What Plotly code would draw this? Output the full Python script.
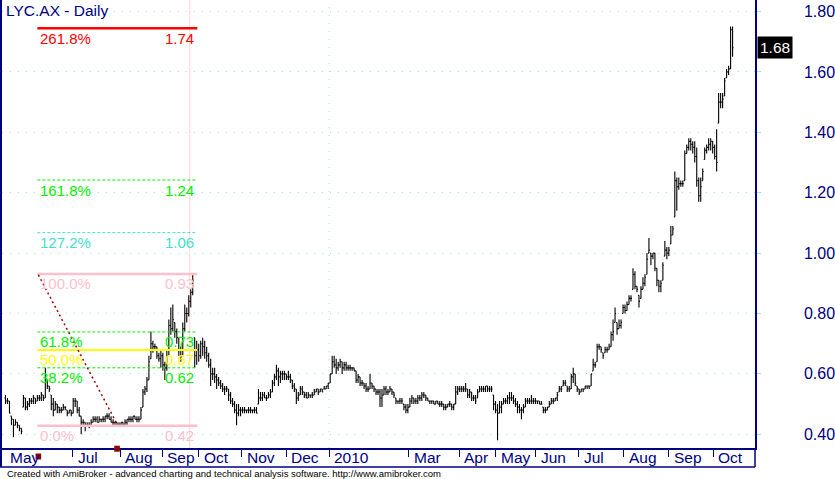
import plotly.graph_objects as go

# ---------------- data ----------------
OPEN = [
    .52, .51, .51, .46, .45, .43, .44, .43, .42, .49,
    .52, .49, .50, .51, .51, .52, .51, .52, .52, .53,
    .52, .58, .56, .53, .50, .48, .50, .49, .48, .48,
    .49, .48, .47, .48, .47, .51, .51, .48, .46, .44,
    .44, .43, .43, .43, .44, .45, .45, .44, .45, .45,
    .45, .46, .46, .45, .44, .44, .44, .43, .43, .44,
    .43, .44, .45, .45, .45, .46, .45, .45, .45, .49,
    .54, .55, .58, .65, .70, .69, .69, .66, .65, .66,
    .63, .62, .66, .76, .75, .77, .74, .72, .68, .66,
    .75, .80, .80, .84, .87, .72, .66, .68, .66, .70,
    .69, .67, .66, .63, .60, .60, .59, .58, .57, .56,
    .55, .55, .55, .53, .51, .50, .48, .47, .48, .48,
    .48, .48, .48, .48, .48, .48, .48, .50, .52, .52,
    .53, .52, .52, .53, .54, .57, .59, .61, .59, .60,
    .60, .60, .59, .59, .58, .56, .55, .52, .53, .55,
    .54, .53, .52, .53, .53, .53, .54, .55, .54, .55,
    .55, .55, .56, .57, .60, .64, .63, .62, .63, .64,
    .62, .63, .62, .62, .62, .62, .61, .58, .59, .57,
    .57, .56, .55, .55, .57, .56, .55, .54, .54, .52,
    .53, .55, .54, .54, .55, .54, .52, .51, .51, .51,
    .50, .49, .48, .49, .51, .52, .51, .51, .52, .52,
    .53, .53, .52, .51, .51, .51, .50, .51, .50, .50,
    .50, .49, .49, .50, .50, .49, .50, .54, .55, .55,
    .55, .55, .55, .53, .54, .52, .52, .52, .54, .55,
    .55, .55, .56, .55, .55, .53, .50, .48, .47, .49,
    .50, .51, .51, .52, .52, .52, .51, .50, .49, .48,
    .48, .49, .51, .51, .51, .51, .51, .51, .51, .50,
    .49, .48, .48, .49, .50, .51, .51, .52, .54, .55,
    .56, .57, .56, .55, .55, .59, .60, .56, .55, .54,
    .55, .55, .56, .56, .56, .61, .63, .64, .69, .69,
    .67, .67, .68, .68, .69, .73, .77, .77, .75, .76,
    .80, .82, .81, .83, .85, .88, .93, .89, .86, .85,
    .88, .90, .93, 1.00, 1.00, .99, 1.00, .95, .91, .89,
    .91, .99, 1.01, 1.00, 1.03, 1.06, 1.12, 1.24, 1.22, 1.23,
    1.23, 1.24, 1.33, 1.35, 1.37, 1.36, 1.35, 1.32, 1.24, 1.19,
    1.24, 1.31, 1.34, 1.35, 1.36, 1.37, 1.35, 1.32, 1.43, 1.50,
    1.50, 1.52, 1.58, 1.60, 1.61, 1.74,
]
HIGH = [
    .53, .52, .51, .46, .45, .45, .44, .43, .42, .53,
    .52, .51, .52, .52, .53, .52, .53, .53, .54, .53,
    .62, .58, .56, .53, .52, .51, .50, .49, .49, .50,
    .49, .48, .48, .48, .52, .52, .51, .49, .46, .45,
    .44, .44, .44, .45, .46, .46, .46, .46, .45, .46,
    .46, .47, .47, .46, .45, .44, .44, .44, .44, .44,
    .45, .45, .46, .46, .46, .46, .46, .46, .49, .55,
    .56, .59, .66, .74, .71, .70, .69, .67, .68, .67,
    .64, .68, .78, .82, .83, .77, .75, .72, .69, .77,
    .83, .82, .86, .88, .93, .72, .71, .70, .71, .72,
    .71, .69, .67, .65, .62, .62, .60, .59, .58, .57,
    .56, .56, .55, .54, .52, .51, .50, .50, .49, .49,
    .49, .48, .49, .49, .48, .49, .49, .55, .54, .54,
    .54, .53, .54, .55, .58, .60, .63, .62, .61, .61,
    .61, .60, .61, .60, .58, .57, .55, .54, .56, .56,
    .54, .54, .54, .53, .54, .55, .55, .55, .55, .55,
    .56, .56, .57, .60, .66, .66, .65, .64, .65, .64,
    .64, .64, .63, .63, .62, .62, .61, .60, .59, .58,
    .57, .57, .56, .60, .57, .56, .55, .55, .55, .55,
    .56, .56, .55, .56, .55, .54, .52, .51, .52, .52,
    .50, .50, .50, .52, .53, .52, .52, .53, .53, .54,
    .54, .53, .52, .51, .51, .51, .51, .51, .51, .51,
    .50, .50, .50, .51, .50, .50, .56, .56, .56, .56,
    .56, .57, .55, .55, .54, .53, .53, .55, .56, .56,
    .56, .56, .56, .56, .56, .53, .51, .50, .51, .51,
    .52, .52, .53, .54, .54, .53, .52, .51, .50, .49,
    .50, .52, .52, .52, .53, .52, .52, .51, .51, .51,
    .49, .49, .49, .51, .52, .52, .52, .54, .56, .56,
    .58, .58, .56, .56, .60, .62, .60, .56, .55, .55,
    .55, .56, .56, .56, .60, .65, .64, .70, .70, .69,
    .67, .69, .69, .70, .74, .78, .82, .77, .78, .78,
    .83, .83, .84, .86, .86, .95, .94, .89, .86, .89,
    .92, .93, 1.00, 1.05, 1.00, 1.00, 1.00, .95, .91, .91,
    .97, 1.04, 1.02, 1.02, 1.09, 1.09, 1.27, 1.25, 1.25, 1.24,
    1.24, 1.34, 1.36, 1.38, 1.38, 1.37, 1.37, 1.35, 1.25, 1.25,
    1.28, 1.35, 1.36, 1.38, 1.38, 1.37, 1.36, 1.41, 1.53, 1.53,
    1.53, 1.58, 1.61, 1.62, 1.75, 1.75,
]
LOW = [
    .50, .50, .47, .43, .39, .43, .42, .41, .40, .49,
    .48, .48, .49, .50, .50, .50, .51, .51, .51, .51,
    .52, .55, .54, .48, .46, .48, .47, .47, .47, .48,
    .48, .46, .47, .46, .47, .49, .47, .46, .40, .43,
    .41, .43, .42, .43, .44, .44, .44, .44, .44, .44,
    .44, .45, .45, .44, .43, .43, .43, .43, .43, .43,
    .43, .43, .44, .44, .44, .45, .44, .44, .45, .49,
    .53, .54, .58, .65, .67, .68, .65, .64, .62, .61,
    .58, .61, .66, .73, .74, .72, .70, .66, .64, .66,
    .74, .77, .79, .82, .86, .62, .63, .64, .65, .66,
    .65, .64, .62, .56, .58, .57, .55, .56, .55, .54,
    .53, .54, .51, .50, .49, .47, .43, .46, .46, .47,
    .47, .47, .47, .47, .47, .47, .47, .50, .51, .51,
    .52, .51, .52, .52, .54, .56, .58, .56, .57, .58,
    .58, .58, .58, .57, .55, .54, .50, .51, .53, .53,
    .52, .52, .52, .52, .52, .53, .54, .53, .54, .54,
    .55, .55, .55, .57, .60, .62, .60, .61, .62, .60,
    .61, .61, .61, .61, .61, .61, .57, .57, .56, .56,
    .55, .54, .54, .55, .55, .54, .53, .53, .49, .49,
    .53, .53, .53, .54, .53, .52, .50, .50, .50, .50,
    .48, .47, .47, .49, .50, .50, .50, .50, .51, .51,
    .52, .51, .51, .50, .50, .50, .50, .50, .49, .49,
    .48, .48, .49, .49, .48, .48, .50, .53, .54, .54,
    .54, .54, .52, .52, .51, .51, .50, .52, .54, .54,
    .54, .54, .54, .54, .54, .48, .47, .38, .47, .47,
    .50, .50, .50, .50, .51, .50, .49, .47, .47, .45,
    .47, .49, .50, .50, .50, .50, .50, .50, .50, .50,
    .47, .47, .48, .49, .50, .50, .51, .51, .54, .54,
    .56, .56, .54, .54, .55, .57, .56, .54, .53, .54,
    .54, .55, .55, .55, .56, .61, .62, .64, .68, .67,
    .65, .67, .67, .68, .69, .71, .77, .73, .75, .75,
    .80, .80, .81, .83, .84, .88, .88, .87, .82, .85,
    .88, .89, .93, 1.00, .96, .98, .94, .89, .87, .87,
    .91, .99, .98, .99, 1.03, 1.06, 1.12, 1.14, 1.21, 1.22,
    1.22, 1.24, 1.33, 1.34, 1.34, 1.33, 1.30, 1.22, 1.17, 1.17,
    1.24, 1.31, 1.33, 1.34, 1.34, 1.33, 1.31, 1.27, 1.43, 1.48,
    1.48, 1.52, 1.58, 1.59, 1.61, 1.65,
]
CLOSE = [
    .51, .51, .47, .45, .43, .44, .43, .42, .41, .52,
    .49, .50, .51, .51, .52, .51, .52, .52, .53, .52,
    .58, .56, .55, .50, .48, .50, .49, .48, .48, .49,
    .49, .47, .48, .47, .51, .51, .48, .46, .44, .44,
    .43, .43, .43, .44, .45, .45, .44, .45, .45, .45,
    .46, .46, .45, .44, .44, .44, .43, .43, .44, .43,
    .44, .45, .45, .45, .46, .45, .45, .45, .48, .54,
    .55, .58, .64, .70, .69, .69, .66, .65, .66, .63,
    .62, .66, .76, .75, .78, .74, .72, .68, .66, .75,
    .80, .80, .84, .87, .91, .66, .68, .66, .70, .69,
    .67, .66, .63, .60, .60, .59, .58, .57, .56, .55,
    .55, .55, .53, .51, .50, .48, .47, .48, .48, .48,
    .48, .48, .48, .48, .48, .48, .47, .52, .52, .53,
    .52, .52, .53, .54, .57, .59, .61, .59, .60, .60,
    .60, .59, .59, .58, .56, .55, .52, .53, .55, .54,
    .53, .52, .53, .53, .53, .54, .55, .54, .55, .54,
    .55, .56, .57, .60, .64, .63, .62, .63, .64, .62,
    .63, .62, .62, .62, .62, .61, .58, .59, .57, .57,
    .56, .55, .55, .57, .56, .55, .54, .54, .52, .53,
    .55, .54, .54, .55, .54, .53, .51, .51, .51, .51,
    .49, .48, .49, .51, .52, .51, .51, .52, .52, .53,
    .53, .52, .51, .51, .51, .50, .51, .50, .50, .50,
    .49, .49, .50, .50, .49, .50, .54, .55, .55, .55,
    .55, .55, .53, .54, .52, .52, .51, .54, .55, .55,
    .55, .56, .55, .55, .55, .50, .48, .47, .49, .50,
    .51, .51, .52, .52, .52, .51, .50, .49, .48, .48,
    .49, .51, .51, .51, .51, .51, .51, .51, .50, .50,
    .48, .48, .49, .50, .51, .51, .52, .53, .55, .55,
    .57, .57, .55, .55, .59, .60, .57, .55, .54, .55,
    .55, .56, .56, .56, .60, .63, .63, .69, .69, .68,
    .66, .68, .68, .69, .73, .74, .80, .75, .76, .77,
    .82, .81, .83, .85, .85, .93, .89, .88, .84, .88,
    .90, .92, .98, 1.01, .99, 1.00, .95, .91, .89, .90,
    .96, 1.01, 1.00, 1.01, 1.06, 1.08, 1.24, 1.22, 1.23, 1.23,
    1.23, 1.33, 1.35, 1.37, 1.36, 1.35, 1.32, 1.24, 1.19, 1.22,
    1.27, 1.34, 1.35, 1.36, 1.37, 1.35, 1.32, 1.30, 1.50, 1.50,
    1.51, 1.57, 1.60, 1.61, 1.74, 1.68,
]
BAR_IDX = list(range(len(CLOSE)))

# month labels of the date axis and the bar index where each month starts
MONTH_LABELS = ["May", "Jul", "Aug", "Sep", "Oct", "Nov", "Dec", "2010",
                "Mar", "Apr", "May", "Jun", "Jul", "Aug", "Sep", "Oct"]
MONTH_POS = [0.0, 33.85, 57.5, 78.65, 97.0, 118.65, 140.85, 162.5,
             202.5, 227.85, 246.15, 266.15, 287.65, 310.35, 332.85, 355.35]
YEAR_POS = 162.5          # dotted year separator (2010)
CURSOR_POS = 92.5         # pink selection line

# Fibonacci study
FIB_LOW = 0.428
FIB_HIGH = 0.931
FIB_X0, FIB_X1 = 16.0, 96.3
FIB_RATIOS = [0.0, 0.382, 0.5, 0.618, 1.0, 1.272, 1.618, 2.618]
FIB_PCT_TEXT = ["0.0%", "38.2%", "50.0%", "61.8%", "100.0%", "127.2%", "161.8%", "261.8%"]
FIB_VAL_TEXT = ["0.42", "0.62", "0.67", "0.73", "0.93", "1.06", "1.24", "1.74"]
FIB_COLORS = ["#FFC0CB", "#00F000", "#FFFF00", "#00F000", "#FFC0CB", "#40E0D0", "#00F000", "#FF0000"]
FIB_WIDTHS = [2.5, 1, 2, 1, 2.5, 1, 1, 2.5]
FIB_DASH = ["solid", "3px,2px", "solid", "3px,2px", "solid", "3px,2px", "3px,2px", "solid"]

TREND_X = [16.5, 56.0]
TREND_Y = [0.928, 0.434]

assert len(OPEN) == len(HIGH) == len(LOW) == len(CLOSE), (len(OPEN), len(HIGH), len(LOW), len(CLOSE))

# ---------------- layout constants ----------------
W, H = 835, 479
ML, MR, MT, MB = 2, 77, 0, 31
PW, PH = W - ML - MR, H - MT - MB
X_RANGE = [-1.75, 376.25]
Y_RANGE = [0.3546, 1.8381]
NAVY = "#000080"
GRID = "#9AE6E6"
FONT = "Liberation Sans, Arial, sans-serif"


def py(pix):
    """pixel row (from top of plot) -> paper y"""
    return 1 - pix / PH


def pxp(pix):
    """pixel column (from left of plot) -> paper x"""
    return pix / PW


fig = go.Figure()
fig.add_trace(go.Ohlc(
    x=BAR_IDX, open=OPEN, high=HIGH, low=LOW, close=CLOSE,
    increasing=dict(line=dict(color="black", width=1.1)),
    decreasing=dict(line=dict(color="black", width=1.1)),
    tickwidth=0.5, hoverinfo="skip", showlegend=False,
))

shapes = []
annotations = []

# cursor line and year separator (behind bars)
shapes.append(dict(type="line", xref="x", yref="paper", x0=CURSOR_POS, x1=CURSOR_POS,
                   y0=0, y1=1, layer="below", line=dict(color="#FFD4D4", width=1)))
shapes.append(dict(type="line", xref="x", yref="paper", x0=YEAR_POS, x1=YEAR_POS,
                   y0=0, y1=1, layer="below", line=dict(color=GRID, width=1, dash="1px,7px")))

# fib levels
rng = FIB_HIGH - FIB_LOW
for r, pt, vt, c, w, d in zip(FIB_RATIOS, FIB_PCT_TEXT, FIB_VAL_TEXT, FIB_COLORS, FIB_WIDTHS, FIB_DASH):
    lvl = FIB_LOW + r * rng
    shapes.append(dict(type="line", xref="x", yref="y", x0=FIB_X0, x1=FIB_X1, y0=lvl, y1=lvl,
                       line=dict(color=c, width=w, dash=d)))
    annotations.append(dict(x=FIB_X0 + 0.3, y=lvl, xref="x", yref="y", text=pt, showarrow=False,
                            xanchor="left", yanchor="middle", yshift=-10,
                            font=dict(family=FONT, size=15, color=c)))
    annotations.append(dict(x=FIB_X1 - 0.5, y=lvl, xref="x", yref="y", text=vt, showarrow=False,
                            xanchor="right", yanchor="middle", yshift=-10,
                            font=dict(family=FONT, size=15, color=c)))

# trend line of the study
shapes.append(dict(type="line", xref="x", yref="y", x0=TREND_X[0], y0=TREND_Y[0],
                   x1=TREND_X[1], y1=TREND_Y[1], line=dict(color="#A00000", width=1.5, dash="2px,3px")))
# anchor markers in the date strip
for tx, pyc in zip(TREND_X, [456.5, 448.7]):
    shapes.append(dict(type="rect", xref="x", yref="paper", x0=tx - 1.4, x1=tx + 1.4,
                       y0=py(pyc - 3), y1=py(pyc + 3), fillcolor="#900000", line=dict(width=0)))

# frame: left border, date strip bottom, right border extension
strip_bottom = py(467)
shapes.append(dict(type="line", xref="paper", yref="paper", x0=-1 / PW, x1=-1 / PW,
                   y0=strip_bottom, y1=1, line=dict(color=NAVY, width=2)))
shapes.append(dict(type="line", xref="paper", yref="paper", x0=-2 / PW, x1=1,
                   y0=strip_bottom, y1=strip_bottom, line=dict(color=NAVY, width=1.5)))
shapes.append(dict(type="line", xref="paper", yref="paper", x0=1, x1=1,
                   y0=strip_bottom, y1=0, line=dict(color=NAVY, width=1.5)))

# month labels
for lab, pos in zip(MONTH_LABELS, MONTH_POS):
    annotations.append(dict(x=pos, y=py(457), xref="x", yref="paper", text=lab, showarrow=False,
                            xanchor="left", yanchor="middle", xshift=3,
                            font=dict(family=FONT, size=15.5, color=NAVY)))

# title
annotations.append(dict(x=pxp(2), y=py(11), xref="paper", yref="paper", text="LYC.AX - Daily",
                        showarrow=False, xanchor="left", yanchor="middle",
                        font=dict(family=FONT, size=15.5, color=NAVY)))
# last value box
annotations.append(dict(x=1, y=CLOSE[-1], xref="paper", yref="y", text=f"{CLOSE[-1]:.2f}",
                        showarrow=False, xanchor="left", yanchor="middle", xshift=2,
                        bgcolor="black", borderpad=2,
                        font=dict(family=FONT, size=15.5, color="white")))
# footer
annotations.append(dict(x=pxp(3), y=py(473), xref="paper", yref="paper",
                        text="Created with AmiBroker - advanced charting and technical analysis software. http://www.amibroker.com",
                        showarrow=False, xanchor="left", yanchor="middle",
                        font=dict(family=FONT, size=9.5, color="black")))

fig.update_layout(
    width=W, height=H, autosize=False,
    margin=dict(l=ML, r=MR, t=MT, b=MB, pad=0),
    paper_bgcolor="white", plot_bgcolor="white",
    showlegend=False, shapes=shapes, annotations=annotations,
    xaxis=dict(range=X_RANGE, rangeslider=dict(visible=False), showgrid=False, zeroline=False,
               showline=True, linecolor=NAVY, linewidth=1.5,
               tickmode="array", tickvals=[p for p in MONTH_POS if p > 1],
               ticks="outside", ticklen=7, tickwidth=1, tickcolor=NAVY,
               showticklabels=False, fixedrange=True),
    yaxis=dict(range=Y_RANGE, side="right", tickmode="linear", tick0=0.4, dtick=0.2,
               tickformat=".2f", showgrid=True, gridcolor=GRID, gridwidth=1, griddash="1px,7px",
               zeroline=False, showline=True, linecolor=NAVY, linewidth=1.5,
               ticks="outside", ticklen=4, tickcolor=GRID, ticklabelstandoff=40,
               tickfont=dict(family=FONT, size=16, color=NAVY), fixedrange=True),
)

fig.write_html("out.html", config={"displayModeBar": False},
               post_script="document.body.style.margin='0';document.body.style.padding='0';")
